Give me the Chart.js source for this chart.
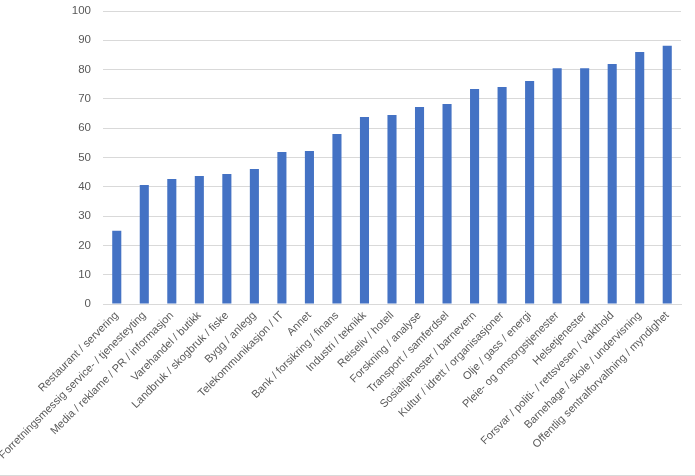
<!DOCTYPE html>
<html>
<head>
<meta charset="utf-8">
<script src="https://cdn.jsdelivr.net/npm/chart.js@4/dist/chart.umd.min.js"></script>
<style>
html,body{margin:0;padding:0;background:#fff;}
#wrap{position:relative;width:695px;height:476px;box-sizing:border-box;border-bottom:1px solid #d9d9d9;}
</style>
</head>
<body>
<div id="wrap"><canvas id="c" width="695" height="475"></canvas></div>
<script>
const categories = [
  "Restaurant / servering",
  "Forretningsmessig service- / tjenesteyting",
  "Media / reklame / PR / informasjon",
  "Varehandel / butikk",
  "Landbruk / skogbruk / fiske",
  "Bygg / anlegg",
  "Telekommunikasjon / IT",
  "Annet",
  "Bank / forsikring / finans",
  "Industri / teknikk",
  "Reiseliv / hotell",
  "Forskning / analyse",
  "Transport / samferdsel",
  "Sosialtjenester / barnevern",
  "Kultur / idrett / organisasjoner",
  "Olje / gass / energi",
  "Pleie- og omsorgstjenester",
  "Helsetjenester",
  "Forsvar / politi- / rettsvesen / vakthold",
  "Barnehage / skole / undervisning",
  "Offentlig sentralforvaltning / myndighet"
];
const values = [25.0, 40.6, 42.7, 43.7, 44.4, 46.1, 51.9, 52.2, 58.0, 63.8, 64.5, 67.2, 68.3, 73.4, 74.1, 76.1, 80.5, 80.5, 81.9, 86.0, 88.1];
const yTicks = [0, 10, 20, 30, 40, 50, 60, 70, 80, 90, 100];

new Chart(document.getElementById('c'), {
  type: 'bar',
  data: {
    labels: categories,
    datasets: [{
      data: values,
      backgroundColor: '#4472C4',
      barPercentage: 0.33,
      categoryPercentage: 1.0
    }]
  },
  options: {
    responsive: false,
    animation: false,
    layout: { padding: { top: 11, right: 14, left: 0, bottom: 0 } },
    plugins: { legend: { display: false }, tooltip: { enabled: false } },
    scales: {
      x: {
        grid: { display: false, drawTicks: false },
        border: { display: true, color: '#d9d9d9', width: 1 },
        ticks: {
          color: '#595959',
          font: { family: 'Liberation Sans', size: 11 },
          minRotation: 45,
          maxRotation: 45,
          autoSkip: false,
          padding: 5
        },
        afterFit: s => { s.height = 171; }
      },
      y: {
        min: 0,
        max: 100,
        afterBuildTicks: s => { s.ticks = yTicks.map(v => ({ value: v })); },
        grid: { color: '#d9d9d9', drawTicks: false, lineWidth: 1 },
        border: { display: false },
        ticks: {
          color: '#595959',
          font: { family: 'Liberation Sans', size: 11.5 },
          padding: 12
        },
        afterFit: s => { s.width = 103; s.paddingTop = 0; s.paddingBottom = 0; }
      }
    }
  }
});
</script>
</body>
</html>
